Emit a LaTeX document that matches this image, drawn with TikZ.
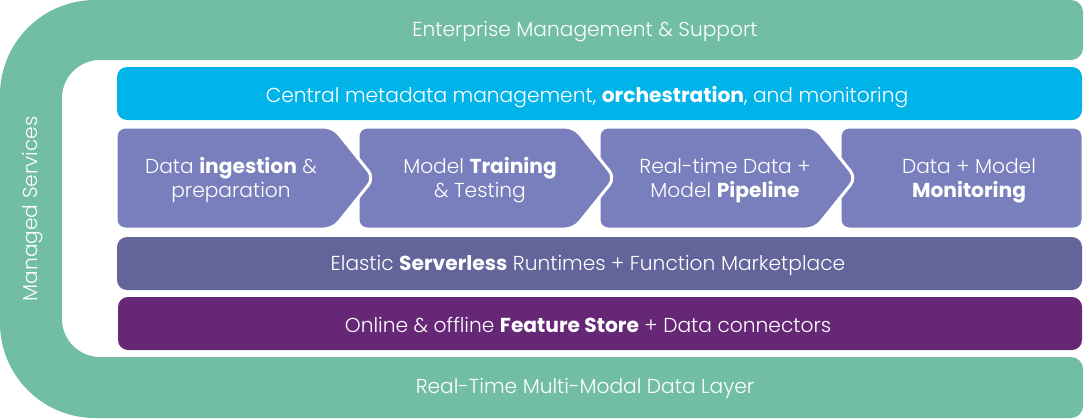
\documentclass[tikz,border=0pt]{standalone}
\usepackage{fontspec}
\setmainfont{Poppins}[UprightFont=* Light, BoldFont=* Bold]
\definecolor{mgreen}{HTML}{72BDA6}
\definecolor{mcyan}{HTML}{00B4EA}
\definecolor{mchev}{HTML}{787FBC}
\definecolor{mserv}{HTML}{62649A}
\definecolor{mpurp}{HTML}{662876}
\tikzset{
  lbl/.style={text=white, font=\fontsize{20.2}{24}\selectfont, inner sep=0pt, align=center},
  bar/.style={rounded corners=10pt},
  chev/.style={fill=mchev, draw=white, line width=3pt, rounded corners=9pt},
}
\begin{document}
\begin{tikzpicture}[x=1pt,y=-1pt]
\useasboundingbox (0,0) rectangle (1087,418);
% C-shaped managed services band
\fill[mgreen] (95,0) -- (1071,0) arc[start angle=-90,end angle=0,radius=12] -- (1083,48)
  arc[start angle=0,end angle=90,radius=12] -- (100,60)
  arc[start angle=-90,end angle=-180,radius=38] -- (62,319)
  arc[start angle=180,end angle=90,radius=38] -- (1071,357)
  arc[start angle=-90,end angle=0,radius=12] -- (1083,406)
  arc[start angle=0,end angle=90,radius=12] -- (95,418)
  arc[start angle=90,end angle=180,radius=95] -- (0,95)
  arc[start angle=180,end angle=270,radius=95] -- cycle;
% bars
\fill[mcyan,bar] (117,67) rectangle (1082,120);
\fill[mserv,bar] (117,237) rectangle (1082,290);
\fill[mpurp,bar] (118,297) rectangle (1082,350);
% chevrons
\filldraw[chev] (840,127) -- (1083,127) -- (1083,229) -- (840,229) -- cycle;
\filldraw[chev] (599,127) -- (815,127) -- (856,178) -- (815,229) -- (599,229) -- cycle;
\filldraw[chev] (358,127) -- (574,127) -- (615,178) -- (574,229) -- (358,229) -- cycle;
\filldraw[chev] (116,127) -- (333,127) -- (374,178) -- (333,229) -- (116,229) -- cycle;
% texts
\node[lbl] (ems) at (585,32) {Enterprise Management \& Support};
\node[lbl] (cmm) at (587,97) {Central metadata management, \textbf{orchestration}, and monitoring};
\node[lbl] (c1) at (231,180.5) {Data \textbf{ingestion} \&\\preparation};
\node[lbl] (c2) at (480,180.5) {Model \textbf{Training}\\\& Testing};
\node[lbl] (c3) at (725,180.5) {Real-time Data +\\Model \textbf{Pipeline}};
\node[lbl] (c4) at (969,180.5) {Data + Model\\\textbf{Monitoring}};
\node[lbl] (srv) at (588,266) {Elastic \textbf{Serverless} Runtimes + Function Marketplace};
\node[lbl] (fs) at (588,325) {Online \& offline \textbf{Feature Store} + Data connectors};
\node[lbl] (rt) at (585,388) {Real-Time Multi-Modal Data Layer};
\node[lbl, rotate=90] (ms) at (33,209) {Managed Services};
\end{tikzpicture}
\end{document}
